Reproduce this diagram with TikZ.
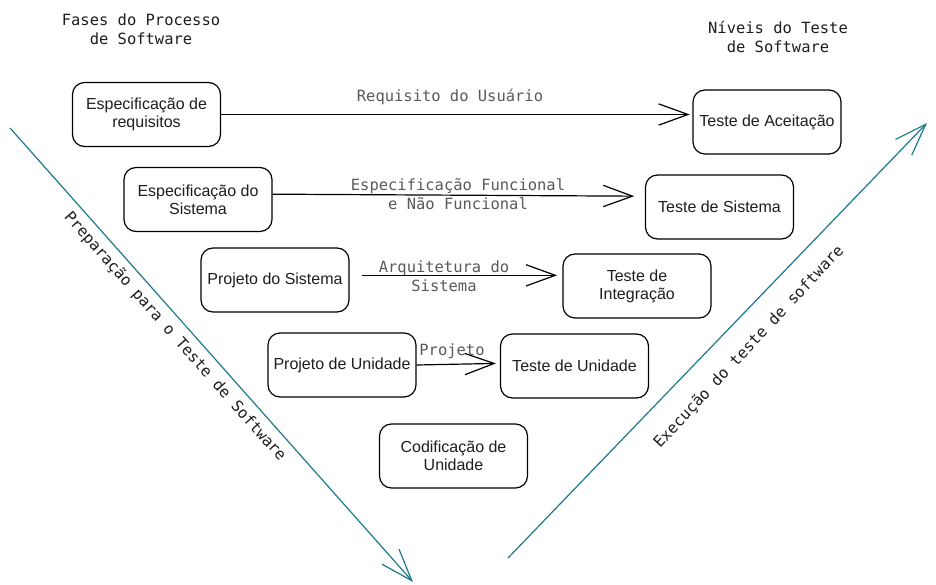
\documentclass[tikz,border=0pt]{standalone}
\usepackage{fontspec}
\setmainfont{Liberation Sans}
\newfontfamily\monofont{DejaVu Sans Mono}
\usetikzlibrary{arrows.meta}
\definecolor{teal1}{HTML}{1B7A8C}
\definecolor{lblgray}{HTML}{5A5A5A}
\definecolor{ink}{HTML}{1E1E1E}
\begin{document}
\begin{tikzpicture}[x=0.75pt,y=-0.75pt,
 box/.style={draw=black, line width=0.9pt, rounded corners=9pt, minimum width=111pt, minimum height=48pt, align=center, font=\fontsize{12}{13.5}\selectfont, text=ink, inner sep=0pt},
 flow/.style={draw=black, line width=0.9pt, -{Straight Barb[length=22pt,width=16pt]}},
 flowlabel/.style={font=\monofont\fontsize{11.6}{14.3}\selectfont, text=lblgray, align=center, inner sep=0pt},
 title/.style={font=\monofont\fontsize{11.6}{14.3}\selectfont, text=ink, align=center, inner sep=0pt},
 phase/.style={draw=teal1, line width=0.9pt, -{Straight Barb[length=24pt,width=17pt]}},
 phaselabel/.style={font=\monofont\fontsize{11.6}{14}\selectfont, text=ink, inner sep=0pt}]
\fill[white] (0,0) rectangle (936,585);
\useasboundingbox (0,0) rectangle (936,585);

% titles
\node[title] (tl) at (141,29.5) {Fases do Processo\\de Software};
\node[title] (tr) at (778,36.5) {Níveis do Teste\\de Software};

% left boxes
\node[box] (r1) at (146.5,114.5) {Especificação de\\requisitos};
\node[box] (s2) at (198,199.5) {Especificação do\\Sistema};
\node[box] (p3) at (275,280) {Projeto do Sistema};
\node[box] (u4) at (342,365) {Projeto de Unidade};
\node[box] (c5) at (453.5,456) {Codificação de\\Unidade};

% right boxes
\node[box] (t1) at (767,122) {Teste de Aceitação};
\node[box] (t2) at (719.5,207) {Teste de Sistema};
\node[box] (t3) at (637,286) {Teste de\\Integração};
\node[box] (t4) at (574.5,366) {Teste de Unidade};

% flows
\draw[flow, shorten >=2pt] (r1.east) -- (r1.east -| t1.west);
\draw[flow] ([yshift=4pt]s2.east) -- ([xshift=-8pt,yshift=2.5pt]s2.east -| t2.west);
\coordinate (a3) at ([xshift=9pt,yshift=3.5pt]p3.east);
\draw[flow, shorten >=4pt] (a3) -- (a3 -| t3.west);
\draw[flow, shorten >=3pt] (u4.east) -- ([yshift=2pt]t4.west);

% flow labels
\node[flowlabel] (l1) at (450,97) {Requisito do Usuário};
\node[flowlabel] (l2) at (458,194) {Especificação Funcional\\e Não Funcional};
\node[flowlabel] (l3) at (444,276) {Arquitetura do\\Sistema};
\node[flowlabel] (l4) at (452,351) {Projeto};

% phase arrows
\coordinate (pa) at (10,128);
\coordinate (pb) at (413,582);
\draw[phase] (pa) -- (pb);
\node[phaselabel, rotate=-48.5] (pl) at (175,337) {Preparação para o Teste de Software};

\coordinate (ea) at (508,558);
\coordinate (eb) at (927,123);
\draw[phase] (ea) -- (eb);
\node[phaselabel, rotate=47] (el) at (749,347) {Execução do teste de software};
\end{tikzpicture}
\end{document}
